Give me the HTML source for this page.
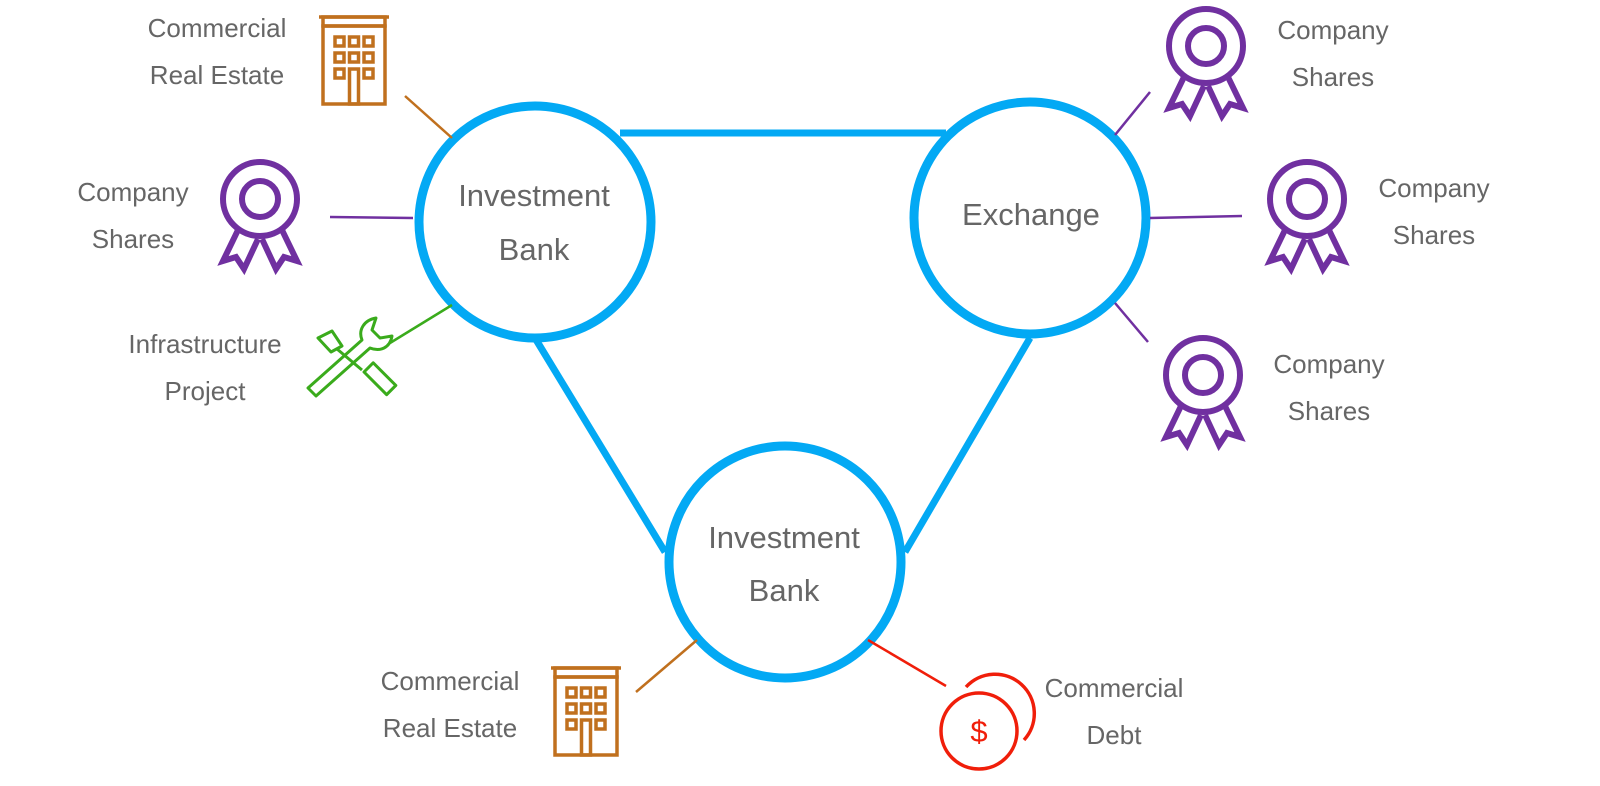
<!DOCTYPE html>
<html><head><style>
html,body{margin:0;padding:0;background:#fff;}
svg{display:block;}
text{font-family:"Liberation Sans",sans-serif;fill:#666;}
</style></head><body>
<svg width="1600" height="786" viewBox="0 0 1600 786" xmlns="http://www.w3.org/2000/svg">
<defs>
<g id="award" fill="none" stroke="#7030a0" stroke-width="6" stroke-linejoin="miter">
  <circle cx="0" cy="0" r="37"/>
  <circle cx="0" cy="0" r="18"/>
  <polyline points="-22,31 -37,62 -24,58 -16,70 -2,40"/>
  <polyline points="22,31 37,62 24,58 16,70 2,40"/>
</g>
<g id="bldg" fill="none" stroke="#c0701e" stroke-width="3.5">
  <line x1="-35" y1="-36" x2="35" y2="-36"/>
  <rect x="-31" y="-36" width="62" height="9"/>
  <rect x="-31" y="-27" width="62" height="78"/>
  <rect x="-19" y="-16" width="9" height="9"/><rect x="-4.5" y="-16" width="9" height="9"/><rect x="10" y="-16" width="9" height="9"/>
  <rect x="-19" y="0" width="9" height="9"/><rect x="-4.5" y="0" width="9" height="9"/><rect x="10" y="0" width="9" height="9"/>
  <rect x="-19" y="16" width="9" height="9"/><rect x="10" y="16" width="9" height="9"/>
  <rect x="-4.5" y="16" width="9" height="35"/>
</g>
</defs>
<g stroke="#03a9f4" stroke-width="7" fill="none">
<line x1="620" y1="133" x2="946" y2="133"/>
<line x1="535" y1="338" x2="665" y2="552"/>
<line x1="1030" y1="338" x2="905" y2="552"/>
<circle cx="535" cy="222" r="116" fill="#fff" stroke-width="9"/>
<circle cx="1030" cy="218" r="116" fill="#fff" stroke-width="9"/>
<circle cx="785" cy="562" r="116" fill="#fff" stroke-width="9"/>
</g>
<g font-size="31" text-anchor="middle">
<text x="534" y="206">Investment</text><text x="534" y="260">Bank</text>
<text x="1031" y="225">Exchange</text>
<text x="784" y="548">Investment</text><text x="784" y="601">Bank</text>
</g>
<g stroke-width="2.5">
<line x1="405" y1="96" x2="452" y2="138" stroke="#c0701e"/>
<line x1="330" y1="217" x2="413" y2="218" stroke="#7030a0"/>
<line x1="390" y1="343" x2="452" y2="305" stroke="#3aab1c"/>
<line x1="1115" y1="135" x2="1150" y2="92" stroke="#7030a0"/>
<line x1="1150" y1="218" x2="1242" y2="216" stroke="#7030a0"/>
<line x1="1115" y1="303" x2="1148" y2="342" stroke="#7030a0"/>
<line x1="636" y1="692" x2="697" y2="640" stroke="#c0701e"/>
<line x1="868" y1="640" x2="946" y2="686" stroke="#f01e0a"/>
</g>
<use href="#bldg" x="354" y="53"/>
<use href="#bldg" x="586" y="704"/>
<use href="#award" x="260" y="199"/>
<use href="#award" x="1206" y="46"/>
<use href="#award" x="1307" y="199"/>
<use href="#award" x="1203" y="375"/>
<g fill="none" stroke="#3aab1c" stroke-width="3" stroke-linejoin="round">
<polygon points="318,338 332,331 342,346 331,352"/>
<line x1="337" y1="349" x2="362" y2="370"/>
<rect x="0" y="0" width="13" height="32" transform="translate(364,372) rotate(-45)"/>
<path d="M308,388 L362,340 C358,330 364,320 376,318 L372,330 L380,338 L392,336 C390,348 380,352 370,348 L316,396 Z"/>
</g>
<g fill="none" stroke="#f01e0a" stroke-width="3.5">
<path d="M966,687 A38,38 0 1 1 1024,740"/>
<circle cx="979" cy="731" r="38"/>
</g>
<text x="979" y="742" font-size="31" text-anchor="middle" style="fill:#f01e0a">$</text>
<g font-size="26" text-anchor="middle">
<text x="217" y="37">Commercial</text><text x="217" y="84">Real Estate</text>
<text x="133" y="201">Company</text><text x="133" y="248">Shares</text>
<text x="205" y="353">Infrastructure</text><text x="205" y="400">Project</text>
<text x="1333" y="39">Company</text><text x="1333" y="86">Shares</text>
<text x="1434" y="197">Company</text><text x="1434" y="244">Shares</text>
<text x="1329" y="373">Company</text><text x="1329" y="420">Shares</text>
<text x="450" y="690">Commercial</text><text x="450" y="737">Real Estate</text>
<text x="1114" y="697">Commercial</text><text x="1114" y="744">Debt</text>
</g>
</svg>
</body></html>
